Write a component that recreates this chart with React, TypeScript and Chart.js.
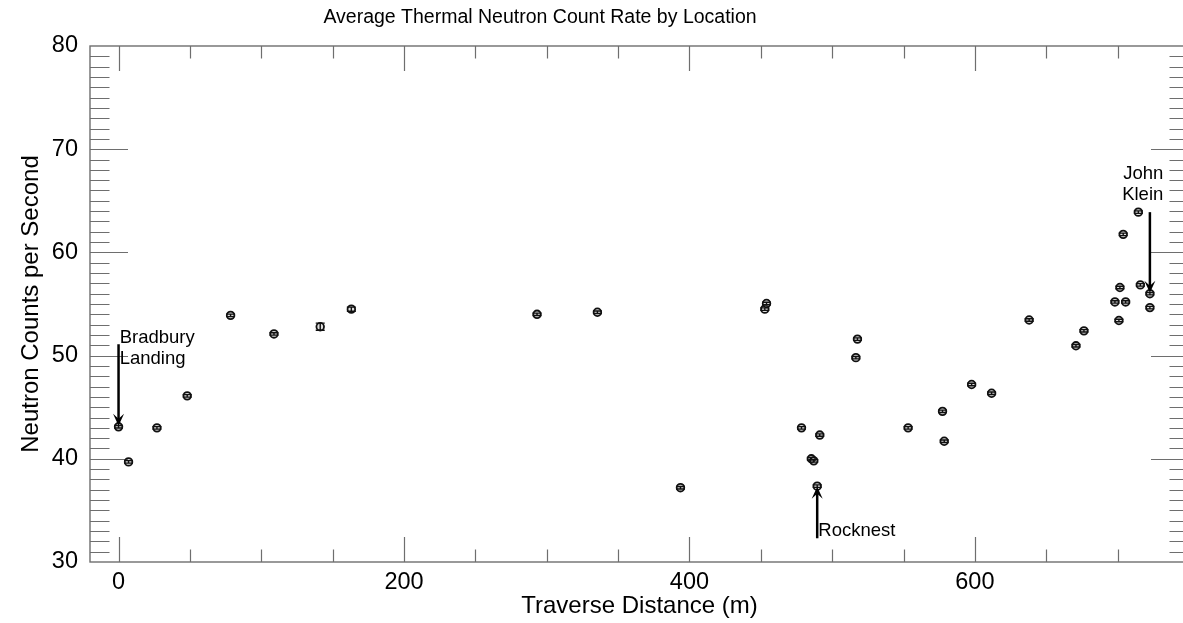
import React, { useEffect, useRef } from "react";
import { Chart, registerables } from "chart.js";

Chart.register(...registerables);

// ---- data ----
const distance = [
  0, 7.0, 26.9, 48.1, 78.5, 108.9, 141.3, 163.1, 293.2, 335.5, 393.7,
  452.8, 454.0, 478.5, 485.4, 487.1, 489.5, 491.3, 516.6, 517.7, 553.2,
  577.3, 578.5, 597.7, 611.7, 638.0, 670.8, 676.4, 698.1, 700.9, 701.6,
  703.9, 705.6, 714.5, 715.9, 722.6, 722.6,
];
const countRate = [
  43.1, 39.7, 43.0, 46.1, 53.9, 52.1, 52.8, 54.5, 54.0, 54.2, 37.2,
  54.5, 55.05, 43.0, 40.0, 39.8, 37.35, 42.3, 49.8, 51.6, 43.0,
  44.6, 41.7, 47.2, 46.35, 53.45, 50.95, 52.4, 55.2, 53.4, 56.6,
  61.75, 55.2, 63.9, 56.85, 56.0, 54.65,
];
const countError = [
  0.12, 0.12, 0.12, 0.12, 0.12, 0.12, 0.35, 0.2, 0.12, 0.12, 0.12,
  0.12, 0.12, 0.12, 0.12, 0.12, 0.12, 0.12, 0.12, 0.12, 0.12,
  0.12, 0.12, 0.12, 0.12, 0.12, 0.12, 0.12, 0.12, 0.12, 0.12,
  0.12, 0.12, 0.12, 0.12, 0.12, 0.12,
];

const xMajorTicks = [0, 200, 400, 600];
const yMajorTicks = [30, 40, 50, 60, 70, 80];
const xMin = -20;
const xMax = 750;
const yMin = 30;
const yMax = 80;

const chartTitle = "Average Thermal Neutron Count Rate by Location";
const xTitle = "Traverse Distance (m)";
const yTitle = "Neutron Counts per Second";

// annotations (data coordinates)
const annotationLines = [["Bradbury", "Landing"], ["John", "Klein"], ["Rocknest"]];
const annotationTextX = [0.8, 732, 490.3];
const annotationTextY = [51.7, 67.6, 33.0];
const annotationAlign = ["left", "right", "left"];
const arrowX = [0, 722.6, 489.5];
const arrowFrom = [51.1, 63.9, 32.3];
const arrowTo = [43.2, 56.1, 37.3];

const FONT = "'Liberation Sans', Arial, Helvetica, sans-serif";
const AXIS_COLOR = "#6e6e6e";

function drawArrow(ctx: CanvasRenderingContext2D, x: number, y0: number, y1: number) {
  const dir = y1 > y0 ? 1 : -1;
  ctx.save();
  ctx.strokeStyle = "#000";
  ctx.fillStyle = "#000";
  ctx.lineWidth = 2.5;
  ctx.beginPath();
  ctx.moveTo(x, y0);
  ctx.lineTo(x, y1 - dir * 4);
  ctx.stroke();
  ctx.beginPath();
  ctx.moveTo(x, y1);
  ctx.lineTo(x - 5.5, y1 - dir * 12);
  ctx.lineTo(x, y1 - dir * 7);
  ctx.lineTo(x + 5.5, y1 - dir * 12);
  ctx.closePath();
  ctx.fill();
  ctx.restore();
}

const customPlugin = {
  id: "customDraw",
  beforeDatasetsDraw(chart: any) {
    const { ctx, chartArea, scales } = chart;
    const { left, right, top, bottom } = chartArea;
    const xs = scales.x;
    const ys = scales.y;
    ctx.save();
    ctx.strokeStyle = AXIS_COLOR;
    ctx.lineWidth = 1.4;
    ctx.strokeRect(left, top, right - left, bottom - top);
    ctx.lineWidth = 1.2;
    ctx.beginPath();
    // x ticks (bottom and top), minor every 50
    for (let v = 0; v < xMax; v += 50) {
      const px = Math.round(xs.getPixelForValue(v)) + 0.5;
      const len = xMajorTicks.includes(v) ? 25 : 12.5;
      ctx.moveTo(px, bottom);
      ctx.lineTo(px, bottom - len);
      ctx.moveTo(px, top);
      ctx.lineTo(px, top + len);
    }
    // y ticks (left and right), minor every 1
    for (let v = yMin + 1; v < yMax; v += 1) {
      const py = Math.round(ys.getPixelForValue(v)) + 0.5;
      const len = yMajorTicks.includes(v) ? 38 : 19.5;
      ctx.moveTo(left, py);
      ctx.lineTo(left + len, py);
      ctx.moveTo(right, py);
      ctx.lineTo(right - len, py);
    }
    ctx.stroke();
    ctx.restore();
  },
  afterDatasetsDraw(chart: any) {
    const { ctx, scales } = chart;
    const xs = scales.x;
    const ys = scales.y;
    ctx.save();
    ctx.strokeStyle = "#111";
    ctx.lineWidth = 1.4;
    ctx.beginPath();
    for (let i = 0; i < distance.length; i++) {
      const px = xs.getPixelForValue(distance[i]);
      const pTop = ys.getPixelForValue(countRate[i] + countError[i]);
      const pBot = ys.getPixelForValue(countRate[i] - countError[i]);
      ctx.moveTo(px, pTop);
      ctx.lineTo(px, pBot);
      ctx.moveTo(px - 4.5, pTop);
      ctx.lineTo(px + 4.5, pTop);
      ctx.moveTo(px - 4.5, pBot);
      ctx.lineTo(px + 4.5, pBot);
    }
    ctx.stroke();
    ctx.restore();
  },
  afterDraw(chart: any) {
    const { ctx, chartArea, scales } = chart;
    const xs = scales.x;
    const ys = scales.y;
    ctx.save();
    ctx.fillStyle = "#000";
    // title
    ctx.font = `19.5px ${FONT}`;
    ctx.textAlign = "center";
    ctx.textBaseline = "middle";
    ctx.fillText(chartTitle, 540, 18);
    // axis titles
    ctx.font = `24px ${FONT}`;
    ctx.fillText(xTitle, (chartArea.left + chartArea.right) / 2, 606);
    ctx.save();
    ctx.translate(31, (chartArea.top + chartArea.bottom) / 2);
    ctx.rotate(-Math.PI / 2);
    ctx.fillText(yTitle, 0, 0);
    ctx.restore();
    // annotations
    ctx.font = `18.5px ${FONT}`;
    ctx.textBaseline = "middle";
    for (let i = 0; i < annotationLines.length; i++) {
      ctx.textAlign = annotationAlign[i] as CanvasTextAlign;
      const tx = xs.getPixelForValue(annotationTextX[i]);
      const ty = ys.getPixelForValue(annotationTextY[i]);
      annotationLines[i].forEach((line, j) => {
        ctx.fillText(line, tx, ty + j * 20.8);
      });
      drawArrow(
        ctx,
        xs.getPixelForValue(arrowX[i]),
        ys.getPixelForValue(arrowFrom[i]),
        ys.getPixelForValue(arrowTo[i])
      );
    }
    ctx.restore();
  },
};

export default function App() {
  const canvasRef = useRef<HTMLCanvasElement | null>(null);

  useEffect(() => {
    const canvas = canvasRef.current;
    if (!canvas) return;
    const chart = new Chart(canvas, {
      type: "scatter",
      data: {
        datasets: [
          {
            label: "Neutron count rate",
            data: distance.map((d, i) => ({ x: d, y: countRate[i] })),
            pointStyle: "circle",
            pointRadius: 3.8,
            pointBorderWidth: 1.8,
            borderColor: "#111",
            backgroundColor: "rgba(160,160,160,0.35)",
          },
        ],
      },
      options: {
        responsive: false,
        animation: false,
        devicePixelRatio: 1,
        layout: { padding: { left: 0, top: 46, right: 11, bottom: 0 } },
        plugins: {
          legend: { display: false },
          tooltip: { enabled: false },
          title: { display: false },
        },
        scales: {
          x: {
            type: "linear",
            min: xMin,
            max: xMax,
            grid: { display: false, drawTicks: false },
            border: { display: false },
            afterBuildTicks: (s: any) => {
              s.ticks = xMajorTicks.map((v) => ({ value: v }));
            },
            afterFit: (s: any) => {
              s.height = 61;
            },
            ticks: {
              color: "#000",
              font: { family: FONT, size: 23.5 },
              padding: 6,
              maxRotation: 0,
              autoSkip: false,
            },
          },
          y: {
            type: "linear",
            min: yMin,
            max: yMax,
            grid: { display: false, drawTicks: false },
            border: { display: false },
            afterBuildTicks: (s: any) => {
              s.ticks = yMajorTicks.map((v) => ({ value: v }));
            },
            afterFit: (s: any) => {
              s.width = 90;
            },
            ticks: {
              color: "#000",
              font: { family: FONT, size: 23.5 },
              padding: 12,
              autoSkip: false,
            },
          },
        },
      },
      plugins: [customPlugin],
    });
    return () => chart.destroy();
  }, []);

  return (
    <div
      style={{
        position: "absolute",
        left: 0,
        top: 0,
        width: 1183,
        height: 623,
        overflow: "hidden",
        background: "#fff",
      }}
    >
      <canvas ref={canvasRef} width={1200} height={623} style={{ width: 1200, height: 623, display: "block" }} />
    </div>
  );
}
